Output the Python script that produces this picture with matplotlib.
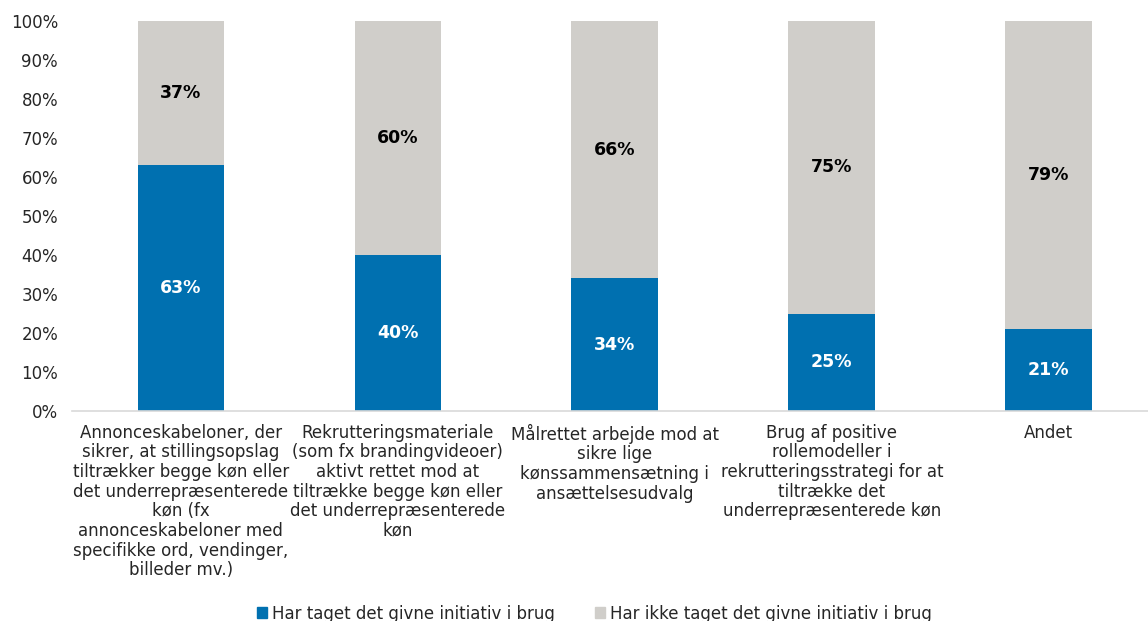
import numpy as np
import matplotlib.pyplot as plt
from matplotlib.patches import Patch
from matplotlib.ticker import PercentFormatter

plt.rcParams['font.family'] = ['DejaVu Sans']

# ------ data ------
categories = [
    "Annonceskabeloner, der\nsikrer, at stillingsopslag\ntiltrækker begge køn eller\ndet underrepræsenterede\nkøn (fx\nannonceskabeloner med\nspecifikke ord, vendinger,\nbilleder mv.)",
    "Rekrutteringsmateriale\n(som fx brandingvideoer)\naktivt rettet mod at\ntiltrække begge køn eller\ndet underrepræsenterede\nkøn",
    "Målrettet arbejde mod at\nsikre lige\nkønssammensætning i\nansættelsesudvalg",
    "Brug af positive\nrollemodeller i\nrekrutteringsstrategi for at\ntiltrække det\nunderrepræsenterede køn",
    "Andet",
]
taget = [63, 40, 34, 25, 21]
ikke_taget = [37, 60, 66, 75, 79]
series_names = ["Har taget det givne initiativ i brug", "Har ikke taget det givne initiativ i brug"]

blue = "#0070B0"
grey = "#D0CECA"
txt = "#262626"

fig = plt.figure(figsize=(11.48, 6.21), dpi=100)
ax = fig.add_axes([72 / 1148, 1 - 411 / 621, 1076 / 1148, 390 / 621])

x = np.arange(len(categories))
w = 0.4
ax.bar(x, taget, w, color=blue)
ax.bar(x, ikke_taget, w, bottom=taget, color=grey)

# data labels
for i in range(len(x)):
    ax.text(x[i], taget[i] / 2, f"{taget[i]}%", ha="center", va="center",
            color="white", fontsize=12.5, fontweight="bold")
    ax.text(x[i], taget[i] + ikke_taget[i] / 2, f"{ikke_taget[i]}%", ha="center",
            va="center", color="black", fontsize=12.5, fontweight="bold")

ax.set_xlim(-0.502, 4.457)
ax.set_ylim(0, 100)
ax.set_yticks(np.arange(0, 101, 10))
ax.yaxis.set_major_formatter(PercentFormatter(decimals=0))
ax.set_xticks(x)
ax.set_xticklabels(categories, fontsize=12, color=txt, linespacing=1.12)
ax.tick_params(axis="y", labelsize=12, labelcolor=txt, length=0, pad=10)
ax.tick_params(axis="x", length=0, pad=9)

for s in ["top", "right", "left"]:
    ax.spines[s].set_visible(False)
ax.spines["bottom"].set_color("#D9D9D9")
ax.spines["bottom"].set_linewidth(1.2)

handles = [Patch(color=blue), Patch(color=grey)]
fig.legend(handles, series_names, loc="center", bbox_to_anchor=(0.518, 0.012),
           ncol=2, frameon=False, fontsize=12, handlelength=0.6, handleheight=0.6,
           handletextpad=0.3, columnspacing=2.4, labelcolor=txt)

fig.savefig("out.png", dpi=100)
